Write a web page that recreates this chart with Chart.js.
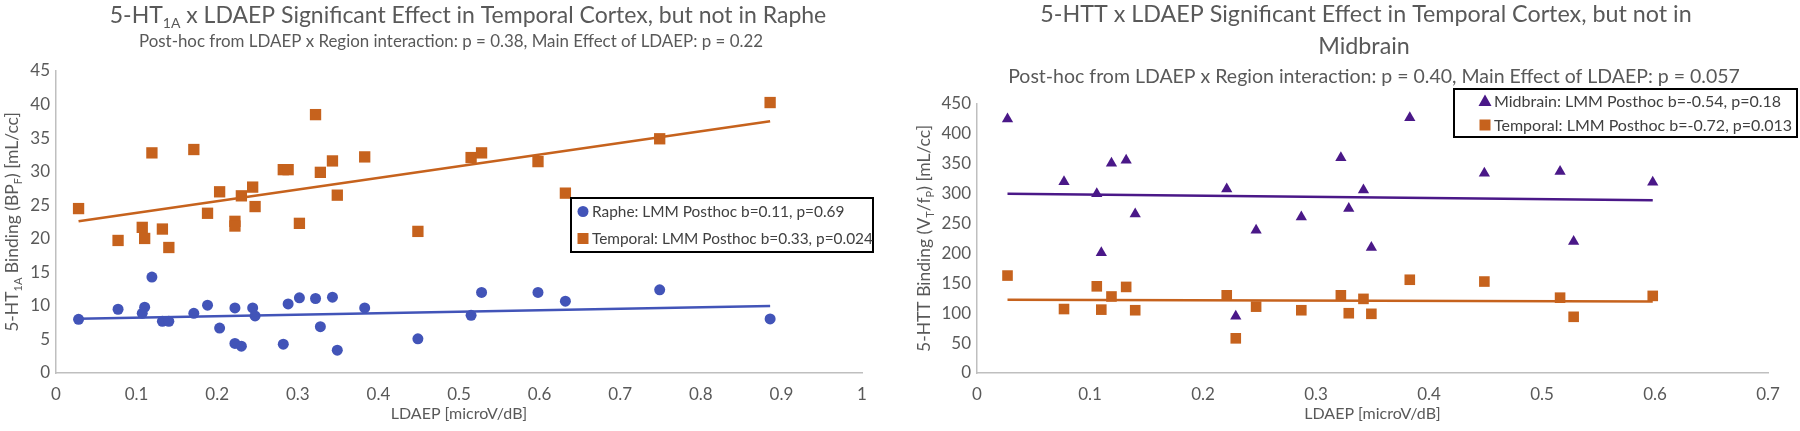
<!DOCTYPE html>
<html>
<head>
<meta charset="utf-8">
<script src="https://cdn.jsdelivr.net/npm/chart.js@4"></script>
<style>
  html, body { margin: 0; padding: 0; background: #fff; }
  #wrap { position: relative; width: 1800px; height: 431px; }
  canvas { position: absolute; top: 0; }
</style>
</head>
<body>
<div id="wrap">
  <canvas id="htChart" width="890" height="431" style="left:0"></canvas>
  <canvas id="httChart" width="920" height="431" style="left:880px"></canvas>
</div>
<script>
// ---- left panel: 5-HT1A binding vs LDAEP ----
const ldaepLeft = [0.028, 0.077, 0.107, 0.110, 0.119, 0.132, 0.140, 0.171, 0.188, 0.203,
  0.222, 0.222, 0.230, 0.244, 0.247, 0.282, 0.288, 0.302, 0.322, 0.328,
  0.343, 0.349, 0.383, 0.449, 0.515, 0.528, 0.598, 0.632, 0.749, 0.886];
const rapheBP = [8.0, 9.5, 8.9, 9.8, 14.3, 7.7, 7.7, 8.9, 10.1, 6.7,
  9.7, 4.4, 4.0, 9.7, 8.5, 4.3, 10.3, 11.2, 11.1, 6.9,
  11.3, 3.4, 9.7, 5.1, 8.6, 12.0, 12.0, 10.7, 12.4, 8.05];
const temporalBP = [24.5, 19.75, 21.7, 20.05, 32.8, 21.45, 18.7, 33.3, 23.8, 27.0,
  22.6, 21.9, 26.4, 27.7, 24.8, 30.3, 30.3, 22.3, 38.5, 29.9,
  31.6, 26.5, 32.2, 21.1, 32.1, 32.8, 31.5, 26.8, 34.9, 40.3];
// trendline end points as drawn in the figure
const trendLeftX = [0.028, 0.886];
const rapheTrend = [8.1, 10.0];
const temporalTrendL = [22.6, 37.5];
const xTicksLeft = [0, 0.1, 0.2, 0.3, 0.4, 0.5, 0.6, 0.7, 0.8, 0.9, 1];
const yTicksLeft = [0, 5, 10, 15, 20, 25, 30, 35, 40, 45];

// ---- right panel: 5-HTT binding vs LDAEP ----
const ldaepRight = [0.027, 0.077, 0.106, 0.110, 0.119, 0.132, 0.140, 0.221, 0.229, 0.247,
  0.287, 0.322, 0.329, 0.342, 0.349, 0.383, 0.449, 0.516, 0.528, 0.598];
const midbrainVT = [425, 320, 300, 201, 351, 356, 266, 308, 95, 239,
  261, 360, 275, 306, 210, 427, 334, 337, 220, 319];
const temporalVT = [163, 107, 145, 106, 128, 144, 105, 130, 58, 111,
  105, 130, 100, 124, 99, 156, 153, 126, 94, 129];
const trendRightX = [0.027, 0.598];
const midbrainTrend = [300, 289];
const temporalTrendR = [122.5, 119.5];
const xTicksRight = [0, 0.1, 0.2, 0.3, 0.4, 0.5, 0.6, 0.7];
const yTicksRight = [0, 50, 100, 150, 200, 250, 300, 350, 400, 450];

// ---- texts ([text, isSubscript] segments where needed) ----
const leftTitle = [['5-HT', 0], ['1A', 1], [' x LDAEP Significant Effect in Temporal Cortex, but not in Raphe', 0]];
const leftSubtitle = 'Post-hoc from LDAEP x Region interaction: p = 0.38, Main Effect of LDAEP: p = 0.22';
const leftYTitle = [['5-HT', 0], ['1A', 1], [' Binding (BP', 0], ['F', 1], [') [mL/cc]', 0]];
const rightTitle1 = [['5-HTT x LDAEP Significant Effect in Temporal Cortex, but not in', 0]];
const rightTitle2 = [['Midbrain', 0]];
const rightSubtitle = 'Post-hoc from LDAEP x Region interaction: p = 0.40, Main Effect of LDAEP: p = 0.057';
const rightYTitle = [['5-HTT Binding (V', 0], ['T', 1], ['/f', 0], ['P', 1], [') [mL/cc]', 0]];
const xTitle = 'LDAEP [microV/dB]';

const FONT = 'Lato, "Open Sans", sans-serif';
const BLUE = '#4254B8';
const ORANGE = '#C6621D';
const PURPLE = '#4A1888';
const GREY = '#595959';

function pts(xs, ys) {
  return xs.map((x, i) => ({ x: x, y: ys[i] }));
}

function drawRich(ctx, segs, cx, cy, size, color) {
  const sub = Math.round(size * 0.62);
  let total = 0;
  const widths = segs.map(([t, s]) => {
    ctx.font = (s ? sub : size) + 'px ' + FONT;
    const w = ctx.measureText(t).width;
    total += w;
    return w;
  });
  let x = cx - total / 2;
  ctx.fillStyle = color;
  ctx.textAlign = 'left';
  ctx.textBaseline = 'alphabetic';
  segs.forEach(([t, s], i) => {
    ctx.font = (s ? sub : size) + 'px ' + FONT;
    ctx.fillText(t, x, cy + size * 0.35 + (s ? size * 0.2 : 0));
    x += widths[i];
  });
}

function drawMarker(ctx, style, color, x, y) {
  ctx.fillStyle = color;
  ctx.beginPath();
  if (style === 'circle') {
    ctx.arc(x, y, 5.5, 0, Math.PI * 2);
  } else if (style === 'rect') {
    ctx.rect(x - 5.5, y - 5.5, 11, 11);
  } else {
    ctx.moveTo(x, y - 6.5);
    ctx.lineTo(x + 6.5, y + 5);
    ctx.lineTo(x - 6.5, y + 5);
    ctx.closePath();
  }
  ctx.fill();
}

// titles, axis titles and the boxed legend
const decor = {
  id: 'decor',
  afterDraw(chart, args, o) {
    const ctx = chart.ctx;
    const area = chart.chartArea;
    ctx.save();
    o.titles.forEach(t => drawRich(ctx, t.segs, t.x, t.y, t.size, GREY));
    drawRich(ctx, [[o.subtitle, 0]], o.subX, o.subY, o.subSize, GREY);
    drawRich(ctx, [[xTitle, 0]], (area.left + area.right) / 2, o.xTitleY, 16, GREY);

    ctx.save();
    ctx.translate(o.yTitleX, (area.top + area.bottom) / 2);
    ctx.rotate(-Math.PI / 2);
    drawRich(ctx, o.yTitle, 0, 0, 17.5, GREY);
    ctx.restore();

    const lg = o.legend;
    ctx.lineWidth = 2;
    ctx.strokeStyle = '#000';
    ctx.strokeRect(lg.x, lg.y, lg.w, lg.h);
    const items = chart.data.datasets.filter(d => d.inLegend);
    items.forEach((d, i) => {
      const y = lg.y + lg.h * (i + 0.5) / items.length;
      drawMarker(ctx, d.pointStyle, d.backgroundColor, lg.x + lg.markerOff, y);
      ctx.font = lg.size + 'px ' + FONT;
      ctx.fillStyle = '#404040';
      ctx.textAlign = 'left';
      ctx.textBaseline = 'middle';
      ctx.fillText(d.label, lg.x + lg.textOff, y + 1);
    });
    ctx.restore();
  }
};

function scaleOpts(min, max, tickValues, fitW, fitH, isX) {
  return {
    type: 'linear',
    min: min,
    max: max,
    grid: { display: true, drawOnChartArea: false, drawTicks: false },
    border: { display: true, color: '#BFBFBF', width: 1.5 },
    afterBuildTicks: s => { s.ticks = tickValues.map(v => ({ value: v })); },
    afterFit: s => { if (isX) s.height = fitH; else s.width = fitW; },
    ticks: {
      color: GREY,
      font: { family: FONT, size: 17 },
      padding: isX ? 11 : 6,
      maxRotation: 0,
      autoSkip: false,
      callback: v => String(Math.round(v * 100) / 100)
    }
  };
}

function scatterSet(label, xs, ys, color, style, radius) {
  return {
    type: 'scatter', label: label, inLegend: true,
    data: pts(xs, ys), pointStyle: style, pointRadius: radius,
    backgroundColor: color, borderColor: color, borderWidth: 0, order: 2
  };
}

function trendSet(xs, ys, color) {
  return {
    type: 'line', data: pts(xs, ys), borderColor: color, borderWidth: 2.5,
    pointRadius: 0, fill: false, order: 1
  };
}

new Chart(document.getElementById('htChart'), {
  type: 'scatter',
  data: {
    datasets: [
      scatterSet('Raphe: LMM Posthoc b=0.11, p=0.69', ldaepLeft, rapheBP, BLUE, 'circle', 5.5),
      scatterSet('Temporal: LMM Posthoc b=0.33, p=0.024', ldaepLeft, temporalBP, ORANGE, 'rect', 8),
      trendSet(trendLeftX, rapheTrend, BLUE),
      trendSet(trendLeftX, temporalTrendL, ORANGE)
    ]
  },
  options: {
    responsive: false,
    animation: false,
    layout: { padding: { left: 0, top: 71, right: 28, bottom: 0 } },
    scales: {
      x: scaleOpts(0, 1, xTicksLeft, 0, 58, true),
      y: scaleOpts(0, 45, yTicksLeft, 56, 0, false)
    },
    plugins: {
      legend: { display: false },
      tooltip: { enabled: false },
      decor: {
        titles: [{ segs: leftTitle, x: 468, y: 15, size: 23 }],
        subtitle: leftSubtitle, subX: 451, subY: 41, subSize: 16.9,
        xTitleY: 413,
        yTitle: leftYTitle, yTitleX: 12,
        legend: { x: 571, y: 198, w: 302, h: 54, markerOff: 12, textOff: 21, size: 15.4 }
      }
    }
  },
  plugins: [decor]
});

new Chart(document.getElementById('httChart'), {
  type: 'scatter',
  data: {
    datasets: [
      scatterSet('Midbrain: LMM Posthoc b=-0.54, p=0.18', ldaepRight, midbrainVT, PURPLE, 'triangle', 6.5),
      scatterSet('Temporal: LMM Posthoc b=-0.72, p=0.013', ldaepRight, temporalVT, ORANGE, 'rect', 7.5),
      trendSet(trendRightX, midbrainTrend, PURPLE),
      trendSet(trendRightX, temporalTrendR, ORANGE)
    ]
  },
  options: {
    responsive: false,
    animation: false,
    layout: { padding: { left: 0, top: 104, right: 32, bottom: 0 } },
    scales: {
      x: scaleOpts(0, 0.7, xTicksRight, 0, 58, true),
      y: scaleOpts(0, 450, yTicksRight, 97, 0, false)
    },
    plugins: {
      legend: { display: false },
      tooltip: { enabled: false },
      decor: {
        titles: [
          { segs: rightTitle1, x: 486, y: 14, size: 23.3 },
          { segs: rightTitle2, x: 484, y: 46, size: 23.3 }
        ],
        subtitle: rightSubtitle, subX: 494, subY: 76, subSize: 19.5,
        xTitleY: 413,
        yTitle: rightYTitle, yTitleX: 44,
        legend: { x: 574, y: 89, w: 343, h: 48, markerOff: 31, textOff: 40, size: 16 }
      }
    }
  },
  plugins: [decor]
});
</script>
</body>
</html>
